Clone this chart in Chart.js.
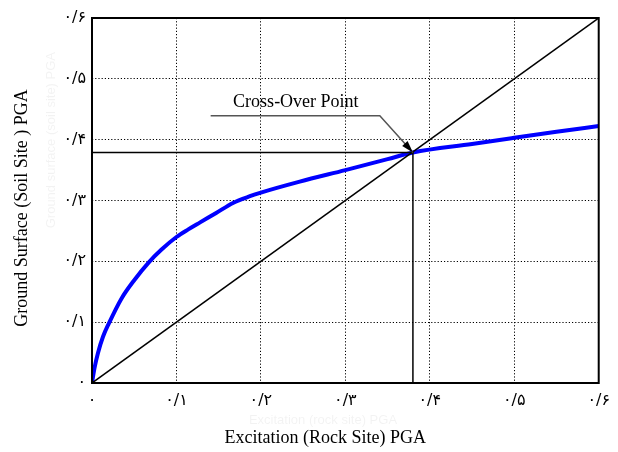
<!DOCTYPE html>
<html>
<head>
<meta charset="utf-8">
<script src="https://cdn.jsdelivr.net/npm/chart.js@4.4.0/dist/chart.umd.min.js"></script>
<style>
  html, body { margin: 0; padding: 0; background: #fff; }
  #wrap { width: 618px; height: 452px; }
</style>
</head>
<body>
<div id="wrap"><canvas id="chart"></canvas></div>
<script>
// Response curve: excitation (rock site) PGA -> ground surface (soil site) PGA
const excitation = [0, 0.003, 0.007, 0.013, 0.02, 0.035, 0.05, 0.067, 0.082, 0.1, 0.114, 0.128, 0.147, 0.167, 0.187, 0.2, 0.246, 0.3, 0.35, 0.38, 0.45, 0.5, 0.55, 0.6];
const surface    = [0, 0.025, 0.049, 0.076, 0.098, 0.139, 0.169, 0.198, 0.219, 0.24, 0.2525, 0.264, 0.2795, 0.296, 0.307, 0.313, 0.331, 0.35, 0.368, 0.379, 0.393, 0.403, 0.413, 0.4225];

// 1:1 line and the cross-over point
const equalityX = [0, 0.6];
const equalityY = [0, 0.6];
const crossOverX = 0.38;
const crossOverY = 0.379;

const tickValues = [0, 0.1, 0.2, 0.3, 0.4, 0.5, 0.6];

const persianDigits = '۰۱۲۳۴۵۶۷۸۹';
function toPersian(v) {
    const s = Number(v).toFixed(1).replace(/\.0$/, '').replace('.', '/');
    return s.replace(/[0-9]/g, d => persianDigits[d]);
}

// annotation anchors (data units)
const labelAt = { x: 0.2414, y: 0.4535 };
const leaderStart = { x: 0.1405, y: 0.4394 };
const leaderBend = { x: 0.3408, y: 0.4394 };

const serif = "'Liberation Serif', 'Times New Roman', serif";
const tickFont = "'DejaVu Sans', serif";

const framePlugin = {
    id: 'frame',
    afterDatasetsDraw(chart) {
        const { ctx, chartArea: a, scales: { x, y } } = chart;
        ctx.save();

        // plot box
        ctx.strokeStyle = '#000';
        ctx.lineWidth = 2;
        ctx.strokeRect(a.left, a.top, a.right - a.left, a.bottom - a.top);

        // leader line + arrow
        const tx = x.getPixelForValue(crossOverX), ty = y.getPixelForValue(crossOverY);
        const bx = x.getPixelForValue(leaderBend.x), by = y.getPixelForValue(leaderBend.y);
        ctx.strokeStyle = '#555';
        ctx.lineWidth = 1.5;
        ctx.beginPath();
        ctx.moveTo(x.getPixelForValue(leaderStart.x), y.getPixelForValue(leaderStart.y));
        ctx.lineTo(bx, by);
        ctx.lineTo(tx, ty);
        ctx.stroke();

        const ang = Math.atan2(ty - by, tx - bx);
        const len = 12, half = 3.6;
        ctx.fillStyle = '#000';
        ctx.beginPath();
        ctx.moveTo(tx, ty);
        ctx.lineTo(tx - len * Math.cos(ang) + half * Math.sin(ang), ty - len * Math.sin(ang) - half * Math.cos(ang));
        ctx.lineTo(tx - len * Math.cos(ang) - half * Math.sin(ang), ty - len * Math.sin(ang) + half * Math.cos(ang));
        ctx.closePath();
        ctx.fill();

        ctx.fillStyle = '#000';
        ctx.font = '18px ' + serif;
        ctx.textAlign = 'center';
        ctx.textBaseline = 'alphabetic';
        ctx.fillText('Cross-Over Point', x.getPixelForValue(labelAt.x), y.getPixelForValue(labelAt.y));

        // faint ghost captions visible in the original scan
        ctx.fillStyle = 'rgba(0,0,0,0.05)';
        ctx.font = "13px 'Liberation Sans', Arial, sans-serif";
        ctx.fillText('Excitation (rock site) PGA', 323, 424);
        ctx.save();
        ctx.translate(55, 52);
        ctx.rotate(-Math.PI / 2);
        ctx.textAlign = 'right';
        ctx.fillText('Ground surface (soil site) PGA', 0, 0);
        ctx.restore();

        // axis titles
        ctx.fillStyle = '#000';
        ctx.font = '18px ' + serif;
        ctx.textAlign = 'center';
        ctx.textBaseline = 'middle';
        ctx.fillText('Excitation (Rock Site) PGA', (a.left + a.right) / 2 - 20, 438);
        ctx.translate(22, 208);
        ctx.rotate(-Math.PI / 2);
        ctx.fillText('Ground Surface (Soil Site ) PGA', 0, 0);

        ctx.restore();
    }
};

const axisBase = {
    type: 'linear',
    min: 0,
    max: 0.6,
    grid: { color: '#000', lineWidth: 1, drawTicks: false },
    border: { display: false, dash: [1.2, 2] },
    afterBuildTicks: scale => { scale.ticks = tickValues.map(v => ({ value: v })); }
};

new Chart(document.getElementById('chart'), {
    type: 'line',
    data: {
        datasets: [
            {
                data: [{ x: 0, y: crossOverY }, { x: crossOverX, y: crossOverY }, { x: crossOverX, y: 0 }],
                borderColor: '#000',
                borderWidth: 1.5,
                pointRadius: 0,
                tension: 0
            },
            {
                data: equalityX.map((v, i) => ({ x: v, y: equalityY[i] })),
                borderColor: '#000',
                borderWidth: 1.5,
                pointRadius: 0,
                tension: 0
            },
            {
                data: excitation.map((v, i) => ({ x: v, y: surface[i] })),
                borderColor: '#0000ff',
                borderWidth: 4,
                pointRadius: 0,
                cubicInterpolationMode: 'monotone'
            }
        ]
    },
    options: {
        responsive: true,
        maintainAspectRatio: false,
        animation: false,
        layout: { padding: { top: 18, right: 19, left: 0, bottom: 0 } },
        plugins: { legend: { display: false }, tooltip: { enabled: false } },
        scales: {
            x: {
                ...axisBase,
                ticks: { color: '#000', font: { family: tickFont, size: 16 }, padding: 8, maxRotation: 0, callback: v => toPersian(v) },
                afterFit: scale => { scale.height = 69; }
            },
            y: {
                ...axisBase,
                ticks: { color: '#000', font: { family: tickFont, size: 16 }, padding: 6, callback: v => toPersian(v) },
                afterFit: scale => { scale.width = 92; }
            }
        }
    },
    plugins: [framePlugin]
});
</script>
</body>
</html>
